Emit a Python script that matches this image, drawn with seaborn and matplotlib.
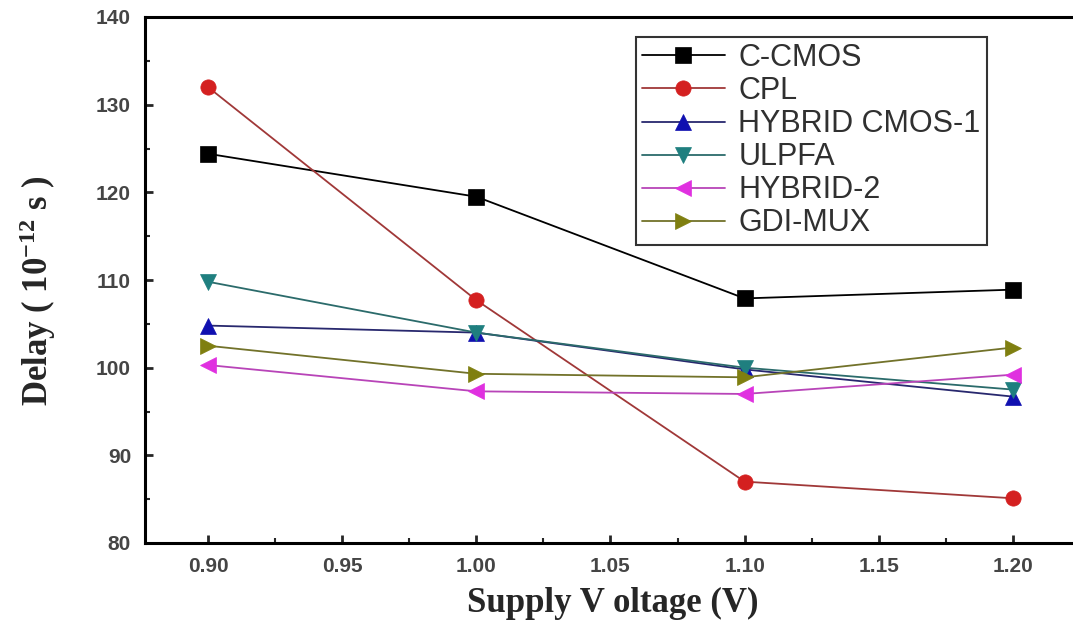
import pandas as pd
import matplotlib
matplotlib.use("Agg")
import matplotlib.pyplot as plt
import seaborn as sns
from matplotlib.ticker import MultipleLocator, FormatStrFormatter

# Data
voltage = [0.90, 1.00, 1.10, 1.20]
c_cmos = [124.4, 119.5, 107.9, 108.9]
cpl = [132.0, 107.7, 87.0, 85.1]
hybrid_cmos_1 = [104.8, 104.0, 99.8, 96.7]
ulpfa = [109.8, 104.0, 100.0, 97.5]
hybrid_2 = [100.3, 97.3, 97.0, 99.2]
gdi_mux = [102.5, 99.3, 98.9, 102.3]

series_names = ["C-CMOS", "CPL", "HYBRID CMOS-1", "ULPFA", "HYBRID-2", "GDI-MUX"]
series_values = [c_cmos, cpl, hybrid_cmos_1, ulpfa, hybrid_2, gdi_mux]

rows = []
for name, vals in zip(series_names, series_values):
    for v, d in zip(voltage, vals):
        rows.append({"voltage": v, "delay": d, "design": name})
df = pd.DataFrame(rows)

# marker colours, and the slightly darker colours used for the connecting lines
palette = {
    "C-CMOS": "#000000",
    "CPL": "#d42020",
    "HYBRID CMOS-1": "#1010b0",
    "ULPFA": "#1f7f7f",
    "HYBRID-2": "#e030e0",
    "GDI-MUX": "#7f7f10",
}
line_colors = ["#000000", "#a03838", "#28286e", "#2b6b6b", "#b844b8", "#72722a"]
markers = {
    "C-CMOS": "s",
    "CPL": "o",
    "HYBRID CMOS-1": "^",
    "ULPFA": "v",
    "HYBRID-2": "<",
    "GDI-MUX": ">",
}

sns.set_theme(style="ticks")
plt.rcParams["font.family"] = ["Liberation Sans", "DejaVu Sans"]
plt.rcParams["mathtext.fontset"] = "custom"
plt.rcParams["mathtext.rm"] = "Liberation Serif:bold"
plt.rcParams["mathtext.it"] = "Liberation Serif:bold"
plt.rcParams["mathtext.bf"] = "Liberation Serif:bold"

fig = plt.figure(figsize=(10.73, 6.33), dpi=100)
ax = fig.add_axes([145 / 1073, (633 - 543) / 633, 935 / 1073, (543 - 17) / 633])

sns.lineplot(
    data=df, x="voltage", y="delay", hue="design", style="design",
    hue_order=series_names, style_order=series_names,
    palette=palette, markers=markers, dashes=False,
    linewidth=1.3, markersize=11, markeredgewidth=0.5, ax=ax,
)

# darker lines, markers keep their own colour
for line, name, lc in zip(ax.lines, series_names, line_colors):
    line.set_color(lc)
    line.set_markerfacecolor(palette[name])
    line.set_markeredgecolor(palette[name])

ax.set_xlim(0.8765, 1.225)
ax.set_ylim(80, 140)
ax.xaxis.set_major_locator(MultipleLocator(0.05))
ax.xaxis.set_minor_locator(MultipleLocator(0.025))
ax.yaxis.set_major_locator(MultipleLocator(10))
ax.yaxis.set_minor_locator(MultipleLocator(5))
ax.xaxis.set_major_formatter(FormatStrFormatter("%.2f"))

ax.tick_params(axis="both", which="major", direction="in", length=6, width=2,
               labelsize=15, labelcolor="#454545", pad=10)
ax.tick_params(axis="both", which="minor", direction="in", length=3.5, width=1.5)
ax.tick_params(top=False, right=False, which="both")
for lbl in ax.get_xticklabels() + ax.get_yticklabels():
    lbl.set_fontweight("bold")

for side in ["left", "bottom", "top"]:
    ax.spines[side].set_linewidth(2.2)
    ax.spines[side].set_color("black")
ax.spines["right"].set_visible(False)

ax.set_xlabel("Supply V oltage (V)", family="Liberation Serif", fontweight="bold",
              fontsize=25)
ax.set_ylabel("Delay ( 10$^{-12}$ s )", family="Liberation Serif", fontweight="bold",
              fontsize=25)
ax.xaxis.set_label_coords(0.5, -0.083)
ax.yaxis.set_label_coords(-0.093, 0.48)

leg = ax.legend(loc="upper left", bbox_to_anchor=(636 / 1073, 1 - 37 / 633),
                bbox_transform=fig.transFigure, fontsize=22, frameon=True,
                fancybox=False, edgecolor="black", handlelength=2.7,
                handletextpad=0.45, labelspacing=0.1, borderpad=0.2,
                borderaxespad=0)
leg.get_frame().set_linewidth(1.5)
for t in leg.get_texts():
    t.set_color("#303030")
for h, name, lc in zip(leg.get_lines(), series_names, line_colors):
    h.set_color(lc)
    h.set_markerfacecolor(palette[name])
    h.set_markeredgecolor(palette[name])

fig.savefig("out.png", dpi=100)
